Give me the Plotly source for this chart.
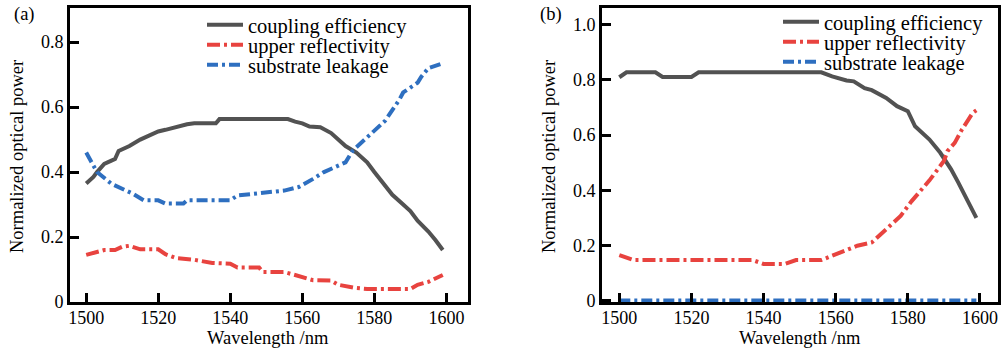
import plotly.graph_objects as go

# ---- Panel (a) data ----
a_ce_x = [1500, 1502, 1503, 1505, 1507, 1508, 1509, 1510, 1512, 1515, 1518, 1520, 1522, 1525, 1528, 1530, 1535, 1536, 1537, 1540, 1545, 1550, 1556, 1558, 1560, 1562, 1565, 1568, 1570, 1572, 1575, 1578, 1580, 1582, 1585, 1588, 1590, 1592, 1595, 1597, 1599]
a_ce_y = [0.365, 0.385, 0.40, 0.425, 0.435, 0.44, 0.465, 0.47, 0.48, 0.50, 0.515, 0.525, 0.53, 0.54, 0.547, 0.55, 0.55, 0.55, 0.563, 0.563, 0.563, 0.563, 0.563, 0.555, 0.55, 0.54, 0.538, 0.52, 0.50, 0.48, 0.46, 0.43, 0.40, 0.37, 0.33, 0.30, 0.28, 0.25, 0.217, 0.19, 0.16]

a_ur_x = [1500, 1503, 1505, 1508, 1510, 1512, 1515, 1520, 1522, 1525, 1530, 1535, 1540, 1542, 1548, 1549, 1555, 1558, 1561, 1563, 1568, 1570, 1575, 1578, 1590, 1592, 1595, 1599]
a_ur_y = [0.145, 0.155, 0.16, 0.16, 0.17, 0.173, 0.162, 0.162, 0.147, 0.135, 0.13, 0.12, 0.118, 0.106, 0.106, 0.092, 0.092, 0.083, 0.075, 0.067, 0.066, 0.053, 0.043, 0.04, 0.04, 0.053, 0.062, 0.083]

a_sl_x = [1500, 1503, 1507, 1510, 1513, 1516, 1520, 1522, 1527, 1528, 1540, 1542, 1550, 1555, 1559, 1562, 1563, 1566, 1569, 1572, 1574, 1578, 1583, 1587, 1588, 1592, 1593, 1595, 1598, 1599]
a_sl_y = [0.46, 0.40, 0.364, 0.35, 0.333, 0.313, 0.313, 0.303, 0.303, 0.313, 0.313, 0.328, 0.336, 0.343, 0.354, 0.372, 0.379, 0.40, 0.416, 0.43, 0.466, 0.507, 0.558, 0.624, 0.645, 0.675, 0.693, 0.72, 0.733, 0.735]

# ---- Panel (b) data ----
b_ce_x = [1500, 1502, 1510, 1512, 1520, 1522, 1556, 1559, 1563, 1565, 1568, 1570, 1574, 1577, 1580, 1582, 1586, 1589, 1592, 1594, 1599]
b_ce_y = [0.81, 0.828, 0.828, 0.811, 0.811, 0.828, 0.828, 0.813, 0.798, 0.795, 0.77, 0.763, 0.735, 0.705, 0.687, 0.632, 0.584, 0.536, 0.476, 0.428, 0.30]

b_ur_x = [1500, 1504, 1537, 1540, 1546, 1549, 1556, 1559, 1563, 1566, 1570, 1574, 1578, 1581, 1584, 1586, 1590, 1591, 1593, 1595, 1598, 1599]
b_ur_y = [0.165, 0.147, 0.147, 0.133, 0.133, 0.147, 0.147, 0.163, 0.181, 0.199, 0.211, 0.26, 0.307, 0.36, 0.404, 0.436, 0.506, 0.542, 0.572, 0.62, 0.681, 0.69]

b_sl_x = [1500, 1510, 1520, 1530, 1540, 1550, 1560, 1570, 1580, 1590, 1599]
b_sl_y = [0, 0, 0, 0, 0, 0, 0, 0, 0, 0, 0]

x_ticks = [1500, 1520, 1540, 1560, 1580, 1600]
a_y_ticks = [0, 0.2, 0.4, 0.6, 0.8]
a_y_text = ["0", "0.2", "0.4", "0.6", "0.8"]
b_y_ticks = [0, 0.2, 0.4, 0.6, 0.8, 1.0]
b_y_text = ["0", "0.2", "0.4", "0.6", "0.8", "1.0"]

names = ["coupling efficiency", "upper reflectivity", "substrate leakage"]
GRAY = "#525252"
RED = "#e8433f"
BLUE = "#2e6fc0"
DASH_R = "13px,4px,3px,4px"
DASH_B = "11px,4px,3px,4px"
FONT = "Liberation Serif"
FS_TICK = 18
FS_LEG = 20.5
FS_TITLE = 18.5

W, H = 1001, 350


def py(p):
    return 1 - p / H


def px(p):
    return p / W


fig = go.Figure()


def add(x, y, name, color, dash, xa, ya, leg):
    fig.add_trace(go.Scatter(x=x, y=y, mode="lines", name=name,
                             line=dict(color=color, width=4, dash=dash),
                             xaxis=xa, yaxis=ya, legend=leg))


add(a_ce_x, a_ce_y, names[0], GRAY, "solid", "x", "y", "legend")
add(a_ur_x, a_ur_y, names[1], RED, DASH_R, "x", "y", "legend2")
add(a_sl_x, a_sl_y, names[2], BLUE, DASH_B, "x", "y", "legend3")
add(b_ce_x, b_ce_y, names[0], GRAY, "solid", "x2", "y2", "legend4")
add(b_ur_x, b_ur_y, names[1], RED, DASH_R, "x2", "y2", "legend5")
add(b_sl_x, b_sl_y, names[2], BLUE, DASH_B, "x2", "y2", "legend6")

ax_common = dict(showline=True, linewidth=3, linecolor="black", mirror=True,
                 ticks="inside", ticklen=9, tickwidth=3, tickcolor="black",
                 showgrid=False, zeroline=False, automargin=False,
                 tickfont=dict(family=FONT, size=FS_TICK, color="black"))


def leg(xp, yp):
    return dict(x=px(xp), y=py(yp), xanchor="left", yanchor="middle",
                bgcolor="rgba(0,0,0,0)", borderwidth=0,
                font=dict(family=FONT, size=FS_LEG, color="black"),
                tracegroupgap=0, itemwidth=36)


BOT, TOP = 302, 8

fig.update_layout(
    width=W, height=H,
    margin=dict(l=0, r=0, t=0, b=0, autoexpand=False),
    paper_bgcolor="white", plot_bgcolor="white",
    font=dict(family=FONT, size=FS_TICK, color="black"),
    xaxis=dict(domain=[px(70), px(468)], range=[1495.5, 1606],
               tickvals=x_ticks, anchor="y", ticklabelstandoff=-3, **ax_common),
    yaxis=dict(domain=[py(BOT), py(TOP)], range=[0, 0.905], tickvals=a_y_ticks,
               ticktext=a_y_text, anchor="x", **ax_common),
    xaxis2=dict(domain=[px(602), px(998)], range=[1495.2, 1605],
                tickvals=x_ticks, anchor="y2", ticklabelstandoff=-3, **ax_common),
    yaxis2=dict(domain=[py(BOT), py(TOP)], range=[-0.005, 1.061], tickvals=b_y_ticks,
                ticktext=b_y_text, anchor="x2", **ax_common),
    legend=leg(202, 25),
    legend2=leg(202, 45),
    legend3=leg(202, 65),
    legend4=leg(778, 22),
    legend5=leg(778, 42),
    legend6=leg(778, 62),
    showlegend=True,
)

ann = [
    dict(text="(a)", x=px(12), y=py(15), xanchor="left", yanchor="middle"),
    dict(text="(b)", x=px(538), y=py(15), xanchor="left", yanchor="middle"),
    dict(text="Wavelength /nm", x=px(268), y=py(350), xanchor="center", yanchor="bottom"),
    dict(text="Wavelength /nm", x=px(800), y=py(350), xanchor="center", yanchor="bottom"),
    dict(text="Normalized optical power", x=px(17), y=py(157), xanchor="center",
         yanchor="middle", textangle=-90),
    dict(text="Normalized optical power", x=px(549), y=py(157), xanchor="center",
         yanchor="middle", textangle=-90),
]
for a in ann:
    fig.add_annotation(xref="paper", yref="paper", showarrow=False,
                       font=dict(family=FONT, size=FS_TITLE, color="black"), **a)

fig.write_html("out.html")
